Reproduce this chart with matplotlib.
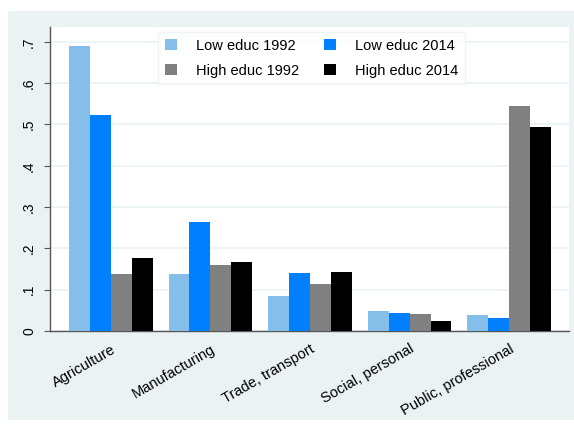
import numpy as np
import matplotlib
matplotlib.use("Agg")
import matplotlib.pyplot as plt
import matplotlib.patches as ptch

# Data
sectors = ["Agriculture", "Manufacturing", "Trade, transport",
           "Social, personal", "Public, professional"]
low_1992 = [0.690, 0.138, 0.085, 0.048, 0.039]
low_2014 = [0.523, 0.265, 0.140, 0.043, 0.031]
high_1992 = [0.138, 0.161, 0.115, 0.041, 0.544]
high_2014 = [0.176, 0.166, 0.143, 0.025, 0.493]
series_labels = ["Low educ 1992", "Low educ 2014", "High educ 1992", "High educ 2014"]
yticks = [0, 0.1, 0.2, 0.3, 0.4, 0.5, 0.6, 0.7]
ytick_labels = ["0", ".1", ".2", ".3", ".4", ".5", ".6", ".7"]

colors = ["#85BFE9", "#0080FF", "#808080", "#000000"]
bg = "#EAF2F3"

plt.rcParams['font.family'] = ['Liberation Sans', 'DejaVu Sans']

W, H = 574, 424
fig = plt.figure(figsize=(W / 100, H / 100), dpi=100)
fig.patch.set_facecolor("white")
# light panel behind the graph
fig.patches.append(ptch.Rectangle((8 / W, 1 - 420 / H), (574 - 8) / W, (420 - 11) / H,
                                  transform=fig.transFigure, facecolor=bg,
                                  edgecolor="none", zorder=-5))

ax = fig.add_axes([50 / W, 1 - 331 / H, (569 - 50) / W, (331 - 27) / H])
ax.set_facecolor("white")

x = np.arange(len(sectors))
w = 0.21
all_series = [low_1992, low_2014, high_1992, high_2014]
for k, (vals, c, lab) in enumerate(zip(all_series, colors, series_labels)):
    ax.bar(x + (k - 1.5) * w, vals, width=w, color=c, label=lab, zorder=3)

ax.set_xlim(-0.61, 4.6)
ax.set_ylim(0, 0.736)
ax.set_yticks(yticks)
ax.set_yticklabels(ytick_labels, rotation=90, va="center", fontsize=10)
ax.yaxis.grid(True, color=bg, linewidth=1.2, zorder=0)
ax.set_axisbelow(True)

ax.set_xticks(x)
ax.set_xticklabels(sectors, rotation=30, ha="right", rotation_mode="anchor", fontsize=10.5)
ax.tick_params(axis="x", length=0, pad=8)
ax.tick_params(axis="y", length=4, color="#555555", pad=6)

for s in ["top", "right"]:
    ax.spines[s].set_visible(False)
ax.spines["left"].set_color("#555555")
ax.spines["bottom"].set_color("#555555")
ax.spines["left"].set_linewidth(1.0)
ax.spines["bottom"].set_linewidth(1.0)

# legend: 2 x 2, row-wise order
handles, labels = ax.get_legend_handles_labels()
order = [0, 2, 1, 3]
leg = ax.legend([handles[i] for i in order], [labels[i] for i in order], ncol=2,
                loc="upper left", bbox_to_anchor=((158 - 50) / 519, 1 - (32 - 27) / 304),
                borderaxespad=0, fontsize=10.5, frameon=True, fancybox=False,
                handlelength=0.85, handleheight=0.85, columnspacing=1.7,
                handletextpad=1.3, borderpad=0.45, labelspacing=0.75)
leg.get_frame().set_edgecolor(bg)
leg.get_frame().set_linewidth(1.0)

plt.savefig("out.png", dpi=100, facecolor=fig.get_facecolor())
